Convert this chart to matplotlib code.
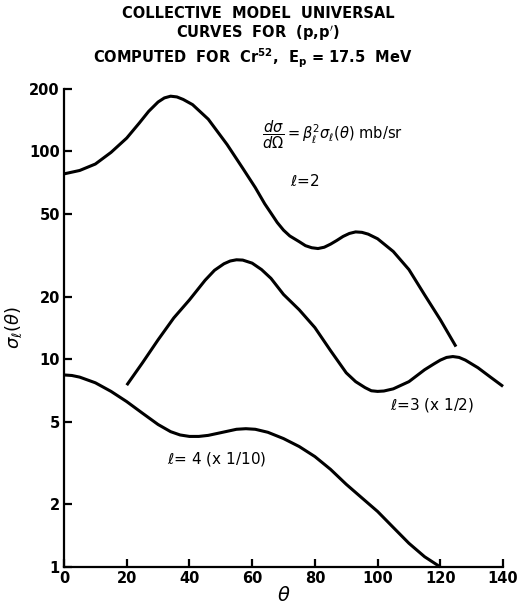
import numpy as np
import matplotlib
matplotlib.use("Agg")
import matplotlib.pyplot as plt
from matplotlib.ticker import FixedLocator, NullLocator

# curves (theta in degrees, sigma in mb/sr)
l2_theta = [0, 5, 10, 15, 20, 24, 27, 30, 32, 34, 36, 38, 41, 46, 52, 57, 61, 64, 66, 68, 70,
            72, 75, 77, 79, 81, 83, 85, 87, 89, 91, 93, 95, 97, 100, 105, 110, 115, 120, 125]
l2_sigma = [78, 81, 87, 99, 116, 137, 156, 173, 181, 184.5, 183, 178, 168, 143, 108, 83, 67, 56, 50.5, 45.5, 41.8,
            39.2, 36.8, 35.2, 34.4, 34.1, 34.6, 35.8, 37.3, 39, 40.3, 41, 40.8, 40, 38, 33, 27, 20.4, 15.5, 11.5]

l3_theta = [20, 25, 30, 35, 40, 45, 48, 51, 53, 55, 57, 60, 63, 66, 70, 75, 80, 85, 90, 93, 96, 98,
            100, 102, 105, 110, 115, 118, 120, 122, 124, 126, 128, 132, 136, 140]
l3_sigma = [7.5, 9.6, 12.4, 15.8, 19.3, 24.0, 26.8, 28.8, 29.7, 30.1, 30, 29, 27, 24.5, 20.5, 17.3, 14.2, 11, 8.6, 7.8, 7.3, 7.05,
            7.0, 7.03, 7.2, 7.8, 8.9, 9.5, 9.9, 10.2, 10.3, 10.2, 9.9, 9.1, 8.2, 7.4]

l4_theta = [0, 2.5, 5, 10, 15, 20, 25, 30, 34, 37, 40, 43, 46, 50, 55, 58, 61, 65, 70, 75, 80, 85,
            90, 95, 100, 105, 110, 115, 120]
l4_sigma = [8.4, 8.35, 8.2, 7.7, 7.0, 6.25, 5.5, 4.85, 4.48, 4.32, 4.25, 4.25, 4.3, 4.43, 4.6, 4.63, 4.6, 4.45, 4.15, 3.8,
            3.4, 2.95, 2.5, 2.15, 1.85, 1.55, 1.3, 1.12, 1.0]

xticks = [0, 20, 40, 60, 80, 100, 120, 140]
yticks = [1, 2, 5, 10, 20, 50, 100, 200]

fig = plt.figure(figsize=(5.23, 6.09), dpi=100)
ax = fig.add_axes([0.1224, 0.069, 0.8394, 0.785])

for th, sg in [(l2_theta, l2_sigma), (l3_theta, l3_sigma), (l4_theta, l4_sigma)]:
    ax.plot(th, sg, color="black", lw=2.2, solid_capstyle="butt", solid_joinstyle="round", clip_on=False)

ax.set_yscale("log")
ax.set_xlim(0, 140)
ax.set_ylim(1, 200)
ax.xaxis.set_major_locator(FixedLocator(xticks))
ax.yaxis.set_major_locator(FixedLocator(yticks))
ax.yaxis.set_minor_locator(NullLocator())
ax.set_xticklabels([str(t) for t in xticks], fontweight="bold")
ax.set_yticklabels([str(t) for t in yticks], fontweight="bold")
ax.tick_params(direction="in", length=6, width=1.6, labelsize=10.5, pad=3)
for s in ["top", "right"]:
    ax.spines[s].set_visible(False)
for s in ["left", "bottom"]:
    ax.spines[s].set_linewidth(1.6)

ax.set_xlabel(r"$\theta$", fontsize=14, labelpad=0)
ax.set_ylabel(r"$\sigma_{\ell}(\theta)$", fontsize=13, labelpad=4)

tkw = dict(ha="center", va="center", fontsize=10.5, fontweight="bold")
fig.text(0.493, 0.978, "COLLECTIVE  MODEL  UNIVERSAL", **tkw)
fig.text(0.493, 0.945, "CURVES  FOR  (p,p$'$)", **tkw)
fig.text(0.483, 0.905, r"COMPUTED  FOR  Cr$^{\mathbf{52}}$,  E$_\mathbf{p}$ = 17.5  MeV", **tkw)

ax.text(63, 120, r"$\dfrac{d\sigma}{d\Omega}=\beta_{\ell}^{2}\sigma_{\ell}(\theta)$ mb/sr",
        fontsize=10.5, ha="left", va="center")
ax.text(72, 72, r"$\ell$=2", fontsize=11, ha="left", va="center")
ax.text(104, 6.0, r"$\ell$=3 (x 1/2)", fontsize=11, ha="left", va="center")
ax.text(33, 3.3, r"$\ell$= 4 (x 1/10)", fontsize=11, ha="left", va="center")

fig.savefig("out.png", dpi=100)
